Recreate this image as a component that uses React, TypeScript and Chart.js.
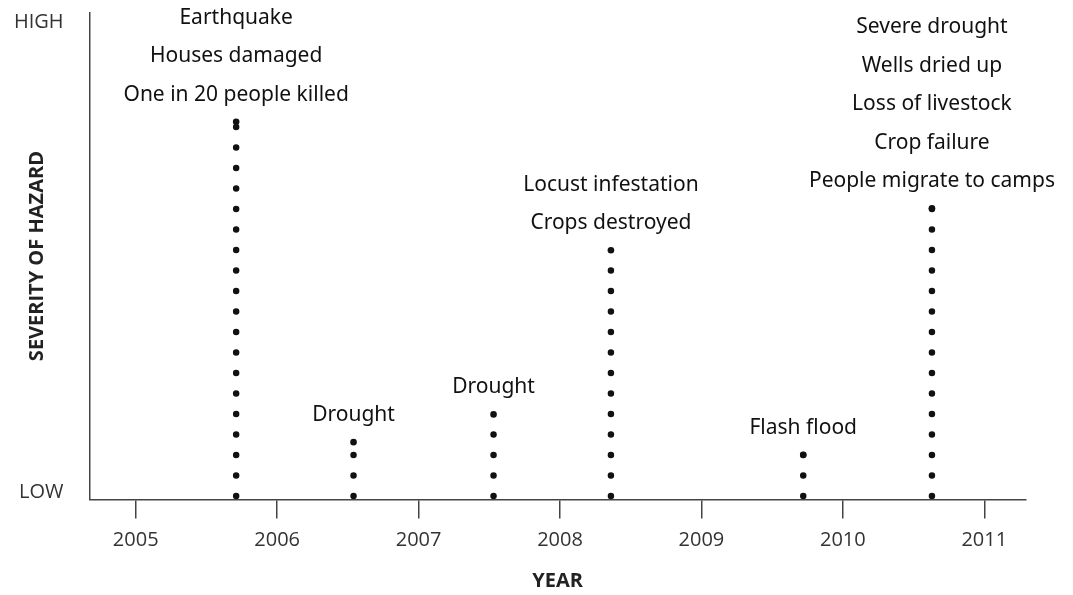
import React, { useEffect, useRef } from "react";
import { Chart, registerables } from "chart.js";

Chart.register(...registerables);

// ---- data ----
const YEARS = [2005, 2006, 2007, 2008, 2009, 2010, 2011];
const EVENT_YEARS = [2005.71, 2006.54, 2007.53, 2008.36, 2009.72, 2010.63];
const SEVERITY = [78.8, 10.7, 16.6, 51.5, 8.0, 60.4];
const EVENT_LABELS = [
  ["Earthquake", "Houses damaged", "One in 20 people killed"],
  ["Drought"],
  ["Drought"],
  ["Locust infestation", "Crops destroyed"],
  ["Flash flood"],
  ["Severe drought", "Wells dried up", "Loss of livestock", "Crop failure", "People migrate to camps"],
];
const LEVEL_VALUES = [0, 100];
const LEVEL_LABELS = ["LOW", "HIGH"];
const BASE = -0.74;

const X_MIN = 2004.673;
const X_MAX = 2011.293;
const Y_MIN = -1.49;
const Y_MAX = 101.98;

const TEXT_FONT = '"Noto Sans", "Open Sans", sans-serif';
const AXIS_FONT = '"Open Sans", "Noto Sans", sans-serif';

const annotationPlugin = {
  id: "eventLabels",
  afterDatasetsDraw(chart: any) {
    const { ctx } = chart;
    const xs = chart.scales.x;
    const ys = chart.scales.y;
    ctx.save();
    ctx.font = `21px ${TEXT_FONT}`;
    ctx.fillStyle = "#111";
    ctx.textAlign = "center";
    ctx.textBaseline = "middle";
    EVENT_LABELS.forEach((lines, i) => {
      const x = xs.getPixelForValue(EVENT_YEARS[i]);
      const yTop = ys.getPixelForValue(SEVERITY[i]);
      const n = lines.length;
      lines.forEach((t, j) => {
        const y = yTop - 27 - (n - 1 - j) * 38.5;
        ctx.fillText(t, x, y);
      });
    });
    ctx.restore();
  },
};

export default function App() {
  const ref = useRef<HTMLCanvasElement | null>(null);

  useEffect(() => {
    document.body.style.margin = "0";
    const canvas = ref.current;
    if (!canvas) return;
    const datasets = EVENT_YEARS.map((yr, i) => ({
      type: "line" as const,
      data: [
        { x: yr, y: BASE },
        { x: yr, y: SEVERITY[i] },
      ],
      borderColor: "#111",
      borderWidth: 6.5,
      borderDash: [0, 20.5],
      borderCapStyle: "round" as const,
      pointRadius: (c: any) => (c.dataIndex === 1 ? 3.3 : 0),
      pointBackgroundColor: "#111",
      pointBorderWidth: 0,
      fill: false,
      tension: 0,
    }));

    const chart = new Chart(canvas, {
      type: "line",
      data: { datasets },
      plugins: [annotationPlugin],
      options: {
        animation: false,
        responsive: false,
        layout: { padding: { top: 12.7, right: 47.3, bottom: 0, left: 0 } },
        plugins: { legend: { display: false }, tooltip: { enabled: false } },
        scales: {
          x: {
            type: "linear",
            min: X_MIN,
            max: X_MAX,
            afterBuildTicks: (s: any) => {
              s.ticks = YEARS.map((v) => ({ value: v }));
            },
            afterFit: (s: any) => {
              s.height = 95.5;
              s.paddingLeft = 0;
              s.paddingRight = 0;
            },
            ticks: {
              callback: (v: any) => String(v),
              font: { family: AXIS_FONT, size: 20 },
              color: "#333",
              padding: 10,
              maxRotation: 0,
              autoSkip: false,
            },
            grid: {
              drawOnChartArea: false,
              drawTicks: true,
              tickLength: 19,
              color: "#444",
              lineWidth: 1.5,
            },
            border: { display: true, color: "#444", width: 1.5 },
            title: {
              display: true,
              text: "YEAR",
              font: { family: AXIS_FONT, size: 20, weight: "bold" },
              color: "#222",
              padding: { top: 0, bottom: 2 },
            },
          },
          y: {
            type: "linear",
            min: Y_MIN,
            max: Y_MAX,
            afterBuildTicks: (s: any) => {
              s.ticks = LEVEL_VALUES.map((v) => ({ value: v }));
            },
            afterFit: (s: any) => {
              s.width = 89.5;
              s.paddingTop = 0;
              s.paddingBottom = 0;
            },
            ticks: {
              callback: (v: any) => {
                const idx = LEVEL_VALUES.indexOf(Number(v));
                return idx >= 0 ? LEVEL_LABELS[idx] : "";
              },
              font: { family: AXIS_FONT, size: 20 },
              color: "#333",
              padding: 26,
              autoSkip: false,
            },
            grid: { display: false, drawTicks: false },
            border: { display: true, color: "#444", width: 1.5 },
            title: {
              display: true,
              text: "SEVERITY OF HAZARD",
              font: { family: AXIS_FONT, size: 20, weight: "bold" },
              color: "#222",
              padding: { top: 25, bottom: 0 },
            },
          },
        },
      },
    } as any);
    return () => chart.destroy();
  }, []);

  return (
    <div style={{ position: "fixed", left: 0, top: 0, width: 1073, height: 595, background: "#fff" }}>
      <canvas ref={ref} width={1073} height={595} style={{ width: 1073, height: 595 }} />
    </div>
  );
}
